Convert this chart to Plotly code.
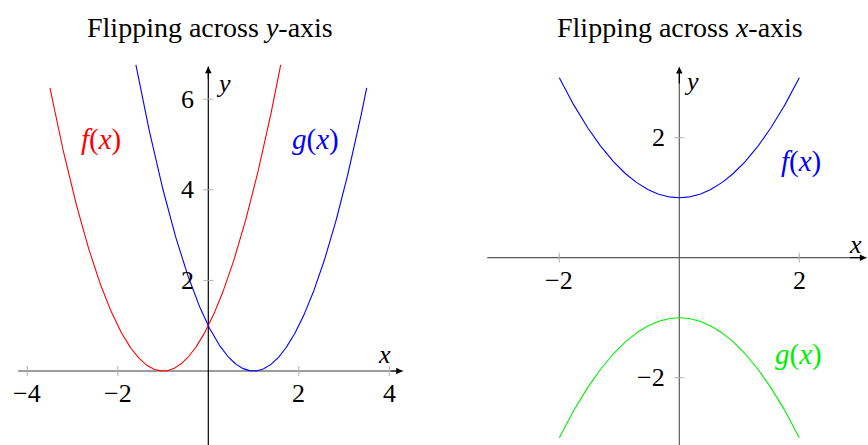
import numpy as np
import plotly.graph_objects as go

# ---- data -------------------------------------------------------------
# Left panel: f(x) = (x - h)^2 and its mirror image g(x) = f(-x)
left_f_vertex = [-1.0, 0.0]      # (h, k) of f
left_g_vertex = [1.0, 0.0]       # (h, k) of g
left_f_domain = [-3.5, 1.6]
left_g_domain = [-1.6, 3.5]
left_xticks = [-4, -2, 2, 4]
left_yticks = [2, 4, 6]

# Right panel: f(x) = x^2/2 + 1 and its reflection g(x) = -f(x)
right_coef = [0.5, 1.0]          # a, c in a*x^2 + c
right_domain = [-2.0, 2.0]
right_xticks = [-2, 2]
right_yticks = [-2, 2]

titles = ["Flipping across <i>y</i>-axis", "Flipping across <i>x</i>-axis"]

FONT = "Liberation Serif"
FS = 26
W, H = 868, 445

# pixel geometry of each panel -> axis ranges
# left: x=0 at px 208.3, 45.25 px/unit ; y=0 at py 371, 45.3 px/unit
# right: x=0 at px 679.3, 60 px/unit ; y=0 at py 257.7, 60 px/unit
def ax_range(p0, p1, origin, scale, flip=False):
    if flip:
        return [(origin - p1) / scale, (origin - p0) / scale]
    return [(p0 - origin) / scale, (p1 - origin) / scale]

L_px = (0, 430); R_px = (440, 868); top_py = 55
Lx = ax_range(*L_px, 208.3, 45.25)
Ly = ax_range(top_py, H, 371.0, 45.3, flip=True)
Rx = ax_range(*R_px, 679.3, 60.0)
Ry = ax_range(top_py, H, 257.7, 60.0, flip=True)

fig = go.Figure()

def curve(domain, fn, color, xa, ya):
    xs = np.linspace(domain[0], domain[1], 300)
    fig.add_trace(go.Scatter(x=xs, y=fn(xs), mode="lines",
                             line=dict(color=color, width=1.1),
                             xaxis=xa, yaxis=ya, hoverinfo="skip",
                             showlegend=False))

hf, kf = left_f_vertex
hg, kg = left_g_vertex
curve(left_f_domain, lambda x: (x - hf) ** 2 + kf, "#ff0000", "x", "y")
curve(left_g_domain, lambda x: (x - hg) ** 2 + kg, "#0000ff", "x", "y")
a, c = right_coef
curve(right_domain, lambda x: a * x ** 2 + c, "#0000ff", "x2", "y2")
curve(right_domain, lambda x: -(a * x ** 2 + c), "#00ee00", "x2", "y2")

shapes, annos = [], []

def axes(xr, yr, xlo, xhi, ylo, yhi, xcol, ycol, xticks, yticks):
    # axis lines with arrow heads
    shapes.append(dict(type="line", xref=xr, yref=yr, x0=xlo, x1=xhi, y0=0, y1=0,
                       line=dict(color=xcol, width=1.2), layer="below"))
    shapes.append(dict(type="line", xref=xr, yref=yr, x0=0, x1=0, y0=ylo, y1=yhi,
                       line=dict(color=ycol, width=1.2), layer="below"))
    annos.append(dict(xref=xr, yref=yr, x=xhi, y=0, ax=xhi - 0.3, ay=0,
                      axref=xr, ayref=yr, showarrow=True, arrowhead=2,
                      arrowsize=1.1, arrowwidth=1.2, arrowcolor="#000", text=""))
    annos.append(dict(xref=xr, yref=yr, x=0, y=yhi, ax=0, ay=yhi - 0.3,
                      axref=xr, ayref=yr, showarrow=True, arrowhead=2,
                      arrowsize=1.1, arrowwidth=1.2, arrowcolor="#000", text=""))
    for t in xticks:
        shapes.append(dict(type="line", xref=xr, yref=yr, x0=t, x1=t,
                           ysizemode="pixel", yanchor=0, y0=-5, y1=5,
                           line=dict(color="#b0b0b0", width=1)))
        annos.append(dict(xref=xr, yref=yr, x=t, y=0, yanchor="top", yshift=-6,
                          xanchor="center", showarrow=False,
                          text=str(t).replace("-", "\u2212"),
                          font=dict(family=FONT, size=FS, color="#000")))
    for t in yticks:
        shapes.append(dict(type="line", xref=xr, yref=yr, y0=t, y1=t,
                           xsizemode="pixel", xanchor=0, x0=-5, x1=5,
                           line=dict(color="#b0b0b0", width=1)))
        annos.append(dict(xref=xr, yref=yr, x=0, y=t, xanchor="right", xshift=-12,
                          showarrow=False, text=str(t).replace("-", "\u2212"),
                          font=dict(family=FONT, size=FS, color="#000")))

axes("x", "y", -4.2, 4.3, Ly[0] - 1, 6.72, "#3a3a3a", "#000", left_xticks, left_yticks)
axes("x2", "y2", -3.2, 3.12, Ry[0] - 1, 3.18, "#5a5a5a", "#5a5a5a", right_xticks, right_yticks)

def label(xr, yr, x, y, text, color, size=FS):
    annos.append(dict(xref=xr, yref=yr, x=x, y=y, showarrow=False,
                      xanchor="center", yanchor="middle",
                      text=text, font=dict(family=FONT, size=size, color=color)))

# axis names
label("x", "y", 0.33, 6.35, "<i>y</i>", "#000")
label("x", "y", 3.9, 0.37, "<i>x</i>", "#000")
label("x2", "y2", 0.2, 2.93, "<i>y</i>", "#000")
label("x2", "y2", 2.94, 0.22, "<i>x</i>", "#000")

# curve names
label("x", "y", -2.38, 5.12, "<i>f</i>(<i>x</i>)", "#ff0000", 29)
label("x", "y", 2.36, 5.12, "<i>g</i>(<i>x</i>)", "#0000ff", 29)
label("x2", "y2", 2.03, 1.6, "<i>f</i>(<i>x</i>)", "#0000ff", 29)
label("x2", "y2", 1.98, -1.62, "<i>g</i>(<i>x</i>)", "#00ee00", 29)

# panel titles
for cx, txt in zip([210, 680], titles):
    annos.append(dict(xref="paper", yref="paper", x=cx / W, y=1 - 28 / H,
                      xanchor="center", yanchor="middle",
                      text=txt, showarrow=False,
                      font=dict(family=FONT, size=28, color="#000")))

hidden = dict(visible=False, showgrid=False, zeroline=False, fixedrange=True)
fig.update_layout(
    width=W, height=H, margin=dict(l=0, r=0, t=0, b=0),
    paper_bgcolor="white", plot_bgcolor="white",
    xaxis=dict(domain=[L_px[0] / W, L_px[1] / W], range=Lx, **hidden),
    yaxis=dict(domain=[0, 1 - top_py / H], range=Ly, **hidden),
    xaxis2=dict(domain=[R_px[0] / W, R_px[1] / W], range=Rx, anchor="y2", **hidden),
    yaxis2=dict(domain=[0, 1 - top_py / H], range=Ry, anchor="x2", **hidden),
    shapes=shapes, annotations=annos,
)
fig.write_html("out.html")
